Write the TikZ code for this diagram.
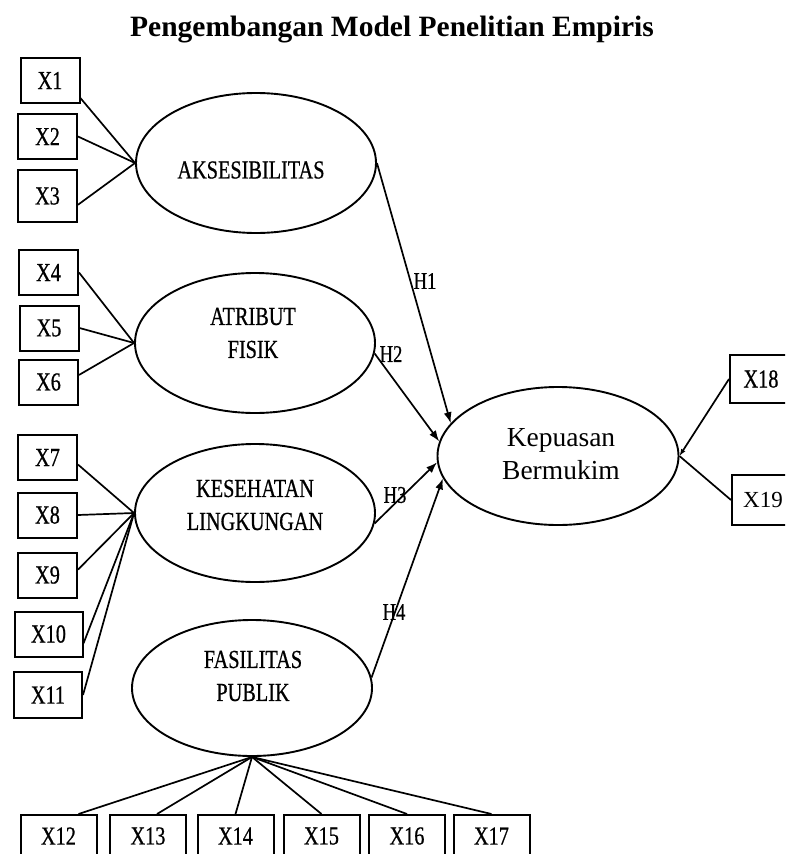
\documentclass[tikz,border=0pt]{standalone}
\usepackage{fontspec}
\setmainfont{Liberation Serif}
\newfontfamily\condf[FakeStretch=0.78,FakeBold=0.6]{Liberation Serif}
\usetikzlibrary{shapes.geometric,arrows.meta,calc}
\begin{document}
\begin{tikzpicture}[x=1pt,y=-1pt,
  box/.style={draw,line width=2pt,inner sep=0pt,minimum width=59pt,minimum height=45pt,font=\condf\fontsize{26}{28}\selectfont},
  bbox/.style={box,minimum width=76pt,minimum height=42pt},
  lat/.style={draw,ellipse,line width=1.9pt,minimum width=240pt,minimum height=140pt,inner sep=0pt},
  lab/.style={font=\condf\fontsize{26}{33}\selectfont,align=center,inner sep=0pt},
  hyp/.style={font=\condf\fontsize{24}{26}\selectfont,inner sep=0pt},
  ln/.style={line width=1.7pt},
  arr/.style={line width=1.7pt,-{Latex[length=11pt,width=8pt]}}]
\useasboundingbox (0,0) rectangle (785,854);
\clip (0,0) rectangle (785,854);

\node[font=\bfseries\fontsize{29.5}{32}\selectfont] (title) at (392,30) {Pengembangan Model Penelitian Empiris};

% latent variables
\node[lat] (aks) at (256,163) {};
\node[lab] (aksT) at (251,170) {AKSESIBILITAS};
\node[lat] (atr) at (255,343) {};
\node[lab] (atrT) at (253,333) {ATRIBUT\\FISIK};
\node[lat,minimum height=138pt] (kes) at (255,513) {};
\node[lab] (kesT) at (255,505) {KESEHATAN\\LINGKUNGAN};
\node[lat,minimum height=136pt] (fas) at (252,688) {};
\node[lab] (fasT) at (253,676) {FASILITAS\\PUBLIK};
\node[lat,minimum width=241pt,minimum height=138pt] (kep) at (558,456) {};
\node[font=\fontsize{27.5}{33}\selectfont,align=center,inner sep=0pt] (kepT) at (561,454) {Kepuasan\\Bermukim};

% indicators
\node[box] (x1) at (50,80.5) {X1};
\node[box] (x2) at (47.5,136.5) {X2};
\node[box,minimum height=52pt] (x3) at (47.5,196) {X3};
\node[box] (x4) at (48.5,272.5) {X4};
\node[box] (x5) at (49,328) {X5};
\node[box] (x6) at (48.5,382) {X6};
\node[box] (x7) at (47.5,457.5) {X7};
\node[box] (x8) at (47.5,515) {X8};
\node[box] (x9) at (47.5,575) {X9};
\node[box,minimum width=68pt] (x10) at (48.5,634) {X10};
\node[box,minimum width=68pt,minimum height=46pt] (x11) at (48,695) {X11};

\node[bbox] (x12) at (58.5,836) {X12};
\node[bbox] (x13) at (148,836) {X13};
\node[bbox] (x14) at (235.5,836) {X14};
\node[bbox] (x15) at (321.5,836) {X15};
\node[bbox] (x16) at (407,836) {X16};
\node[bbox] (x17) at (491.5,836) {X17};

\node[box,minimum width=62pt,minimum height=48pt] (x18) at (761,379) {X18};
\node[box,minimum width=62pt,minimum height=50pt,font=\fontsize{23}{26}\selectfont] (x19) at (763,500) {X19};

% loadings
\draw[ln] (x1.-30) -- (aks.west);
\draw[ln] (x2.east) -- (aks.west);
\draw[ln] (x3.-16) -- (aks.west);
\draw[ln] (x4.east) -- (atr.west);
\draw[ln] (x5.east) -- (atr.west);
\draw[ln] (x6.13) -- (atr.west);
\draw[ln] (x7.-13) -- (kes.west);
\draw[ln] (x8.east) -- (kes.west);
\draw[ln] (x9.10) -- (kes.west);
\draw[ln] (x10.-15) -- (kes.west);
\draw[ln] (x11.east) -- (kes.west);

\draw[ln] (fas.south) -- ($(x12.north)+(20,0)$);
\draw[ln] (fas.south) -- ($(x13.north)+(9,0)$);
\draw[ln] (fas.south) -- (x14.north);
\draw[ln] (fas.south) -- (x15.north);
\draw[ln] (fas.south) -- (x16.north);
\draw[ln] (fas.south) -- (x17.north);

\draw[ln,-{Latex[length=7pt,width=5pt]}] (x18.west) -- (kep.east);
\draw[ln] (x19.west) -- (kep.east);

% structural paths
\draw[arr] (aks.east) -- (kep.163);
\draw[arr] (atr.-5) -- (kep.173);
\draw[arr] (kes.-5) -- (kep.-177);
\draw[arr] (fas.5) -- (kep.-169);

\node[hyp] (h1) at (425,281) {H1};
\node[hyp] (h2) at (391,354) {H2};
\node[hyp] (h3) at (395,495) {H3};
\node[hyp] (h4) at (394,612) {H4};
\end{tikzpicture}
\end{document}
